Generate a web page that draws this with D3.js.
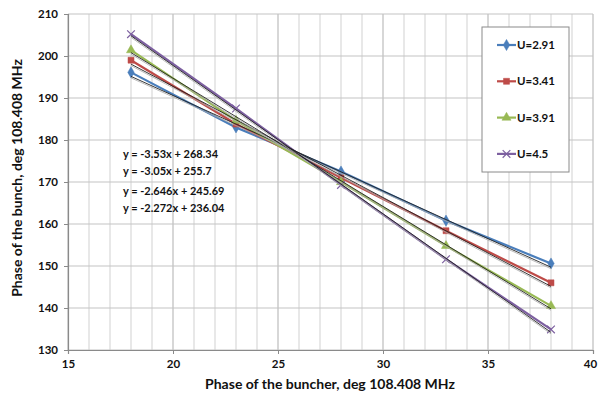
<html lang="en">
  <head>
    <title>Phase of the bunch</title>
    <script src="https://d3js.org/d3.v7.min.js"></script>
    <style>
    body { margin: 0; background: white; }
    .chart text { font-family: Lato, "Liberation Sans", sans-serif; font-weight: bold; fill: #111; }
    </style>
  </head>
  <body>
    <svg class="chart" width="598" height="394"></svg>
    <script>
      // buncher phase points (deg)
      var phases = [18, 23, 28, 33, 38];
      var seriesNames = ["U=2.91", "U=3.41", "U=3.91", "U=4.5"];
      var u291 = [196.1, 183.0, 172.5, 160.8, 150.6];
      var u341 = [199.0, 183.8, 171.0, 158.4, 146.0];
      var u391 = [201.4, 184.6, 170.0, 154.8, 140.5];
      var u450 = [205.2, 187.5, 169.3, 151.6, 134.9];
      // trendline slope / intercept, as printed on the chart
      var slopes = [-2.272, -2.646, -3.05, -3.53];
      var intercepts = [236.04, 245.69, 255.7, 268.34];
      var eqLabels = ["y = -3.53x + 268.34", "y = -3.05x + 255.7", "y = -2.646x + 245.69", "y = -2.272x + 236.04"];
      var xTicks = [15, 20, 25, 30, 35, 40];
      var yTicks = [130, 140, 150, 160, 170, 180, 190, 200, 210];

      var colors = ["#4a7ebb", "#be4b48", "#98b954", "#7d60a0"];
      var symbols = [d3.symbolDiamond, d3.symbolSquare, d3.symbolTriangle, d3.symbolX];
      var allSeries = [u291, u341, u391, u450];

      var svg = d3.select(".chart");
      var x = d3.scaleLinear().domain([15, 40]).range([68, 593]);
      var y = d3.scaleLinear().domain([130, 210]).range([350, 14]);

      // grid
      var grid = svg.append("g");
      grid.selectAll("line.vx")
        .data(d3.range(15, 41))
        .enter().append("line")
        .attr("x1", function(d) { return x(d); })
        .attr("x2", function(d) { return x(d); })
        .attr("y1", y(130)).attr("y2", y(210))
        .attr("stroke", function(d) { return d % 5 === 0 ? "#bdbdbd" : "#d9d9d9"; })
        .attr("stroke-width", 1.2);
      grid.selectAll("line.hy")
        .data(yTicks)
        .enter().append("line")
        .attr("x1", x(15)).attr("x2", x(40))
        .attr("y1", function(d) { return y(d); })
        .attr("y2", function(d) { return y(d); })
        .attr("stroke", "#c4c4c4")
        .attr("stroke-width", 1.2);

      // axes
      var xAxis = svg.append("g")
        .attr("transform", "translate(0," + y(130) + ")")
        .call(d3.axisBottom(x).tickValues(xTicks).tickSize(4).tickPadding(6));
      var yAxis = svg.append("g")
        .attr("transform", "translate(" + x(15) + ",0)")
        .call(d3.axisLeft(y).tickValues(yTicks).tickSize(4).tickPadding(6));
      [xAxis, yAxis].forEach(function(a) {
        a.select(".domain").attr("stroke", "#8a8a8a").attr("stroke-width", 1.2);
        a.selectAll(".tick line").attr("stroke", "#8a8a8a");
        a.selectAll("text").style("font-size", "11.5px").attr("fill", "#111");
      });
      // keep the last x label inside the window
      xAxis.selectAll(".tick text").filter(function(d) { return d === 40; }).attr("dx", "-3");

      // series
      var line = d3.line()
        .x(function(d, i) { return x(phases[i]); })
        .y(function(d) { return y(d); });

      allSeries.forEach(function(s, k) {
        svg.append("path")
          .attr("d", line(s))
          .attr("fill", "none")
          .attr("stroke", colors[k])
          .attr("stroke-width", 2.2);
        svg.selectAll("path.m" + k)
          .data(s)
          .enter().append("path")
          .attr("class", "m" + k)
          .attr("transform", function(d, i) { return "translate(" + x(phases[i]) + "," + y(d) + ")"; })
          .attr("d", d3.symbol().type(symbols[k]).size(k === 3 ? 40 : 36))
          .attr("fill", k === 3 ? "none" : colors[k])
          .attr("stroke", colors[k])
          .attr("stroke-width", k === 3 ? 1.2 : 0.5);
      });

      // trendlines (thin dark, with faint shadow)
      allSeries.forEach(function(s, k) {
        var x0 = phases[0], x1 = phases[phases.length - 1];
        svg.append("line")
          .attr("x1", x(x0)).attr("x2", x(x1))
          .attr("y1", y(slopes[k] * x0 + intercepts[k]) + 1.5)
          .attr("y2", y(slopes[k] * x1 + intercepts[k]) + 1.5)
          .attr("stroke", "#aaaaaa").attr("stroke-width", 0.8);
        svg.append("line")
          .attr("x1", x(x0)).attr("x2", x(x1))
          .attr("y1", y(slopes[k] * x0 + intercepts[k]))
          .attr("y2", y(slopes[k] * x1 + intercepts[k]))
          .attr("stroke", "#222").attr("stroke-width", 0.9);
      });

      // equation labels
      var eqY = [158, 175, 195, 212];
      svg.selectAll("text.eq")
        .data(eqLabels)
        .enter().append("text")
        .attr("class", "eq")
        .attr("x", 123)
        .attr("y", function(d, i) { return eqY[i]; })
        .style("font-size", "11px")
        .text(function(d) { return d; });

      // legend
      var legend = svg.append("g");
      legend.append("rect")
        .attr("x", 482).attr("y", 27).attr("width", 87).attr("height", 145)
        .attr("fill", "white").attr("stroke", "#8a8a8a").attr("stroke-width", 1);
      var rows = legend.selectAll("g.row")
        .data(seriesNames)
        .enter().append("g")
        .attr("transform", function(d, i) { return "translate(497," + (45 + i * 36.3) + ")"; });
      rows.append("line")
        .attr("x1", 0).attr("x2", 19)
        .attr("stroke", function(d, i) { return colors[i]; })
        .attr("stroke-width", 2.2);
      rows.append("path")
        .attr("transform", "translate(9.5,0)")
        .attr("d", function(d, i) { return d3.symbol().type(symbols[i]).size(i === 3 ? 40 : 36)(); })
        .attr("fill", function(d, i) { return i === 3 ? "none" : colors[i]; })
        .attr("stroke", function(d, i) { return colors[i]; })
        .attr("stroke-width", function(d, i) { return i === 3 ? 1.2 : 0.5; });
      rows.append("text")
        .attr("x", 20).attr("dy", "0.35em")
        .style("font-size", "11.5px")
        .text(function(d) { return d; });

      // axis titles
      svg.append("text")
        .attr("x", 330).attr("y", 389)
        .attr("text-anchor", "middle")
        .style("font-size", "14px")
        .text("Phase of the buncher, deg 108.408 MHz");
      svg.append("text")
        .attr("transform", "translate(22,178) rotate(-90)")
        .attr("text-anchor", "middle")
        .style("font-size", "14px")
        .text("Phase of the bunch, deg 108.408 MHz");
    </script>
  </body>
</html>
